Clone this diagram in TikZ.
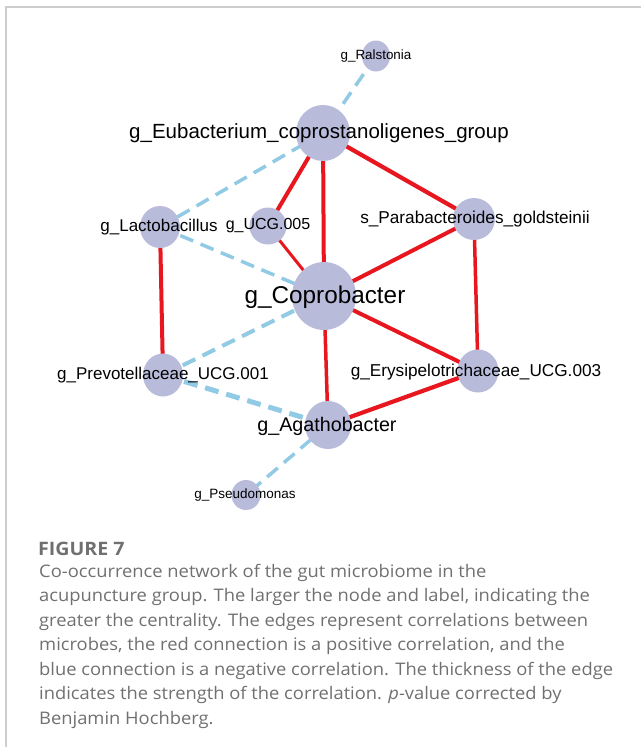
\documentclass[tikz,border=0pt]{standalone}
\usepackage{fontspec}
\setmainfont{Liberation Sans}
\newfontfamily\capfont[FakeStretch=1.06]{Open Sans}
\usetikzlibrary{backgrounds,shapes.geometric}
\definecolor{nodefill}{RGB}{185,187,219}
\definecolor{posred}{RGB}{232,22,30}
\definecolor{negblue}{RGB}{145,202,228}
\definecolor{capgray}{RGB}{112,112,112}
\definecolor{framegray}{RGB}{205,205,205}
\newcommand\fsz[1]{\fontsize{#1}{#1}\selectfont}
\begin{document}
\begin{tikzpicture}[x=1pt,y=-1pt,
  bub/.style 2 args={ellipse,fill=nodefill,draw=none,inner sep=0pt,minimum width=#1,minimum height=#2},
  lbl/.style={inner sep=0pt,text=black,font=\fsz{#1}},
  pos/.style={draw=posred,line width=#1},
  neg/.style={draw=negblue,line width=#1,dash pattern=on 14pt off 8pt},
  captxt/.style={anchor=base west,inner sep=0pt,text=capgray,font=\capfont\fsz{17.3}}]
\useasboundingbox (0,0) rectangle (641,747);
\draw[framegray,line width=1.5pt] (6,747) -- (6,7) -- (641,7);

% nodes
\node[bub={28pt}{31pt}] (ral) at (376,56) {};
\node[bub={54pt}{56pt}] (eub) at (323,133) {};
\node[bub={40pt}{42pt}] (lac) at (160,227) {};
\node[bub={37pt}{37pt}] (ucg) at (268,226) {};
\node[bub={42pt}{42pt}] (par) at (474,219) {};
\node[bub={64pt}{68pt}] (cop) at (324,296) {};
\node[bub={40pt}{43pt}] (pre) at (163,375) {};
\node[bub={41pt}{43pt}] (ery) at (478,371) {};
\node[bub={46pt}{48pt}] (aga) at (328,425) {};
\node[bub={29pt}{30pt}] (pse) at (246,495) {};

% edges
\begin{pgfonlayer}{background}
\draw[pos=4pt] (eub.center) -- (ucg.center);
\draw[pos=4pt] (eub.center) -- (cop.center);
\draw[pos=4.2pt] (eub.center) -- (par.center);
\draw[pos=3pt] (ucg.center) -- (cop.center);
\draw[pos=4pt] (par.center) -- (cop.center);
\draw[pos=3.5pt] (par.center) -- (ery.center);
\draw[pos=4pt] (lac.center) -- (pre.center);
\draw[pos=4pt] (cop.center) -- (ery.center);
\draw[pos=3.5pt] (cop.center) -- (aga.center);
\draw[pos=4.2pt] (aga.center) -- (ery.center);
\draw[neg=3.5pt] (ral.center) -- (eub.center);
\draw[neg=3.5pt] (eub.center) -- (lac.center);
\draw[neg=3.5pt] (lac.center) -- (cop.center);
\draw[neg=4pt] (pre.center) -- (cop.center);
\draw[neg=5pt] (pre.center) -- (aga.center);
\draw[neg=3.5pt] (aga.center) -- (pse.center);
\end{pgfonlayer}

% labels
\node[lbl=13.4] (ralL) at (376,56) {g\_Ralstonia};
\node[lbl=20.5] (eubL) at (319,133) {g\_Eubacterium\_coprostanoligenes\_group};
\node[lbl=17] (lacL) at (159,227) {g\_Lactobacillus};
\node[lbl=16] (ucgL) at (268,226) {g\_UCG.005};
\node[lbl=17.2] (parL) at (475,219) {s\_Parabacteroides\_goldsteinii};
\node[lbl=24.3] (copL) at (325,297) {g\_Coprobacter};
\node[lbl=17] (preL) at (163,375) {g\_Prevotellaceae\_UCG.001};
\node[lbl=17.2] (eryL) at (476,372) {g\_Erysipelotrichaceae\_UCG.003};
\node[lbl=19.7] (agaL) at (327,426) {g\_Agathobacter};
\node[lbl=13.5] (pseL) at (245,495) {g\_Pseudomonas};

% caption
\node[anchor=base west,inner sep=0pt,text=capgray,font=\capfont\bfseries\fsz{18.5}] (fig) at (38,555) {FIGURE 7};
\node[captxt] (c1) at (39,577) {Co-occurrence network of the gut microbiome in the};
\node[captxt] (c2) at (39,601.5) {acupuncture group. The larger the node and label, indicating the};
\node[captxt] (c3) at (39,626) {greater the centrality. The edges represent correlations between};
\node[captxt] (c4) at (39,650.5) {microbes, the red connection is a positive correlation, and the};
\node[captxt] (c5) at (39,675) {blue connection is a negative correlation. The thickness of the edge};
\node[captxt] (c6) at (39,699.5) {indicates the strength of the correlation. \textit{p}-value corrected by};
\node[captxt] (c7) at (39,724) {Benjamin Hochberg.};
\end{tikzpicture}
\end{document}
